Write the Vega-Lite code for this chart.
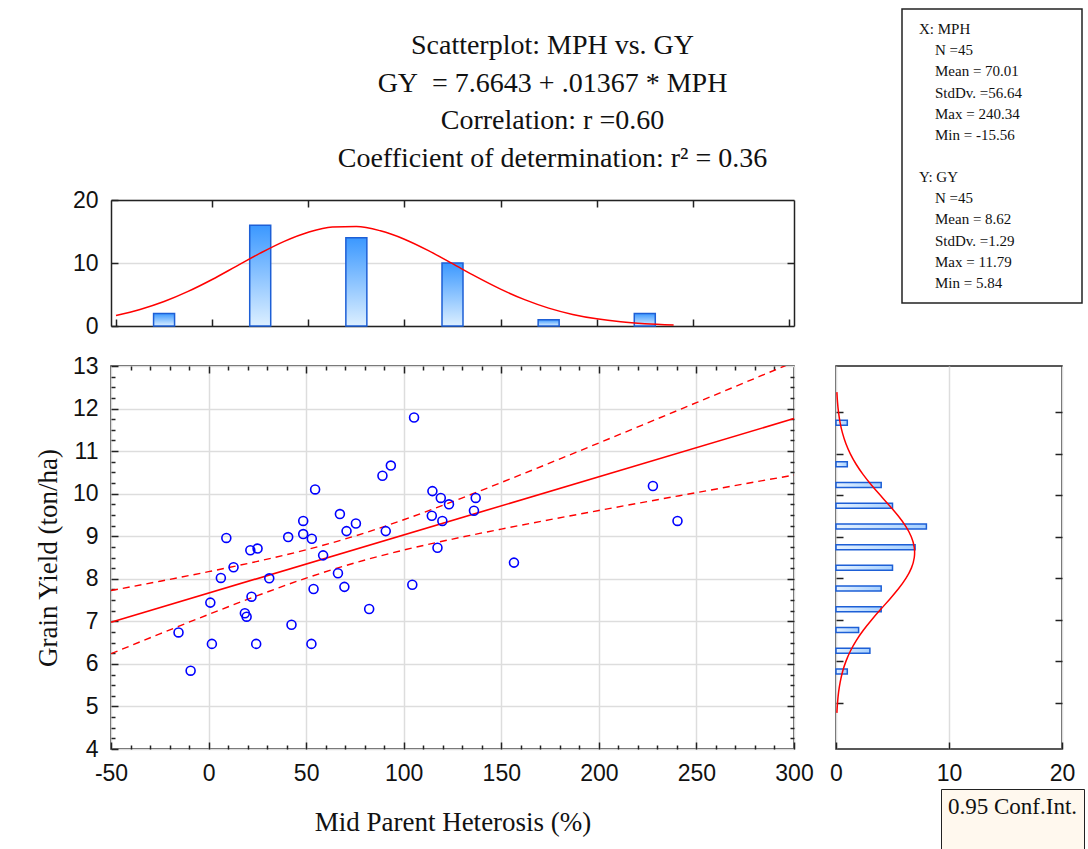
{
  "$schema": "https://vega.github.io/schema/vega-lite/v6.json",
  "background": "white",
  "padding": {"left": 33, "top": 8, "right": 0, "bottom": 0},
  "config": {
    "view": {"stroke": "#222", "strokeWidth": 1.5},
    "axis": {
      "labelFont": "Liberation Sans", "labelFontSize": 23, "labelColor": "#111", "labelFlush": false,
      "labelExpr": "datum.value",
      "titleFont": "Liberation Serif", "titleFontSize": 27, "titleFontWeight": "normal", "titleColor": "#111",
      "domain": false, "domainColor": "#222", "domainWidth": 1.5, "gridColor": "#dddddd", "gridWidth": 1.5,
      "tickColor": "#222", "tickSize": -7, "tickWidth": 1.5, "labelPadding": 20
    }
  },
  "datasets": {
    "points": [
      {"MPH": -15.4, "GY": 6.74}, {"MPH": -9.2, "GY": 5.84}, {"MPH": 0.9, "GY": 7.44}, {"MPH": 1.7, "GY": 6.47},
      {"MPH": 6.3, "GY": 8.02}, {"MPH": 9.1, "GY": 8.96}, {"MPH": 12.8, "GY": 8.27}, {"MPH": 18.6, "GY": 7.19},
      {"MPH": 19.5, "GY": 7.11}, {"MPH": 21.4, "GY": 8.67}, {"MPH": 22.0, "GY": 7.58}, {"MPH": 24.4, "GY": 6.47},
      {"MPH": 25.1, "GY": 8.71}, {"MPH": 31.1, "GY": 8.01}, {"MPH": 40.8, "GY": 8.98}, {"MPH": 42.5, "GY": 6.92},
      {"MPH": 48.5, "GY": 9.36}, {"MPH": 48.5, "GY": 9.05}, {"MPH": 52.7, "GY": 6.47}, {"MPH": 52.9, "GY": 8.94},
      {"MPH": 53.8, "GY": 7.76}, {"MPH": 54.6, "GY": 10.10}, {"MPH": 58.7, "GY": 8.55}, {"MPH": 66.3, "GY": 8.13},
      {"MPH": 67.3, "GY": 9.52}, {"MPH": 69.6, "GY": 7.81}, {"MPH": 70.7, "GY": 9.12}, {"MPH": 75.5, "GY": 9.30},
      {"MPH": 82.3, "GY": 7.29}, {"MPH": 89.1, "GY": 10.42}, {"MPH": 90.8, "GY": 9.12}, {"MPH": 93.4, "GY": 10.66},
      {"MPH": 104.4, "GY": 7.86}, {"MPH": 105.3, "GY": 11.79}, {"MPH": 114.4, "GY": 9.48}, {"MPH": 114.7, "GY": 10.06},
      {"MPH": 117.3, "GY": 8.73}, {"MPH": 119.0, "GY": 9.90}, {"MPH": 119.8, "GY": 9.36}, {"MPH": 123.2, "GY": 9.75},
      {"MPH": 136.0, "GY": 9.60}, {"MPH": 136.9, "GY": 9.90}, {"MPH": 156.5, "GY": 8.38}, {"MPH": 227.7, "GY": 10.18},
      {"MPH": 240.3, "GY": 9.36}
    ],
    "fit": [{"MPH": -50, "GY": 6.98}, {"MPH": 300, "GY": 11.765}],
    "ci": [
      {"MPH": -50, "bound": "upper", "GY": 7.723}, {"MPH": -25, "bound": "upper", "GY": 7.941},
      {"MPH": 0, "bound": "upper", "GY": 8.167}, {"MPH": 25, "bound": "upper", "GY": 8.409},
      {"MPH": 50, "bound": "upper", "GY": 8.681}, {"MPH": 70, "bound": "upper", "GY": 8.935},
      {"MPH": 100, "bound": "upper", "GY": 9.387}, {"MPH": 125, "bound": "upper", "GY": 9.813},
      {"MPH": 150, "bound": "upper", "GY": 10.262}, {"MPH": 175, "bound": "upper", "GY": 10.723},
      {"MPH": 200, "bound": "upper", "GY": 11.191}, {"MPH": 225, "bound": "upper", "GY": 11.664},
      {"MPH": 250, "bound": "upper", "GY": 12.139}, {"MPH": 275, "bound": "upper", "GY": 12.615},
      {"MPH": 300, "bound": "upper", "GY": 13.092},
      {"MPH": -50, "bound": "lower", "GY": 6.239}, {"MPH": -25, "bound": "lower", "GY": 6.705},
      {"MPH": 0, "bound": "lower", "GY": 7.162}, {"MPH": 25, "bound": "lower", "GY": 7.603},
      {"MPH": 50, "bound": "lower", "GY": 8.015}, {"MPH": 70, "bound": "lower", "GY": 8.307},
      {"MPH": 100, "bound": "lower", "GY": 8.675}, {"MPH": 125, "bound": "lower", "GY": 8.933},
      {"MPH": 150, "bound": "lower", "GY": 9.168}, {"MPH": 175, "bound": "lower", "GY": 9.389},
      {"MPH": 200, "bound": "lower", "GY": 9.605}, {"MPH": 225, "bound": "lower", "GY": 9.816},
      {"MPH": 250, "bound": "lower", "GY": 10.025}, {"MPH": 275, "bound": "lower", "GY": 10.233},
      {"MPH": 300, "bound": "lower", "GY": 10.438}
    ],
    "histx": [
      {"MPH": -25, "count": 2}, {"MPH": 25, "count": 16}, {"MPH": 75, "count": 14},
      {"MPH": 125, "count": 10}, {"MPH": 175, "count": 1}, {"MPH": 225, "count": 2}
    ],
    "curvex": [
      {"MPH": -50, "count": 1.68}, {"MPH": -37.5, "count": 2.62}, {"MPH": -25, "count": 3.88},
      {"MPH": -12.5, "count": 5.49}, {"MPH": 0, "count": 7.38}, {"MPH": 12.5, "count": 9.47},
      {"MPH": 25, "count": 11.56}, {"MPH": 37.5, "count": 13.44}, {"MPH": 50, "count": 14.89},
      {"MPH": 62.5, "count": 15.71}, {"MPH": 75, "count": 15.79}, {"MPH": 87.5, "count": 15.11},
      {"MPH": 100, "count": 13.78}, {"MPH": 112.5, "count": 11.96}, {"MPH": 125, "count": 9.89},
      {"MPH": 137.5, "count": 7.79}, {"MPH": 150, "count": 5.85}, {"MPH": 162.5, "count": 4.18},
      {"MPH": 175, "count": 2.84}, {"MPH": 187.5, "count": 1.84}, {"MPH": 200, "count": 1.14},
      {"MPH": 212.5, "count": 0.67}, {"MPH": 225, "count": 0.375}, {"MPH": 240, "count": 0.175}
    ],
    "histy": [
      {"GY": 11.75, "count": 1}, {"GY": 10.75, "count": 1}, {"GY": 10.25, "count": 4},
      {"GY": 9.75, "count": 5}, {"GY": 9.25, "count": 8}, {"GY": 8.75, "count": 7},
      {"GY": 8.25, "count": 5}, {"GY": 7.75, "count": 4}, {"GY": 7.25, "count": 4},
      {"GY": 6.75, "count": 2}, {"GY": 6.25, "count": 3}, {"GY": 5.75, "count": 1}
    ],
    "curvey": [
      {"GY": 4.75, "count": 0.077}, {"GY": 5.0, "count": 0.136}, {"GY": 5.25, "count": 0.229},
      {"GY": 5.5, "count": 0.374}, {"GY": 5.75, "count": 0.586}, {"GY": 6.0, "count": 0.885},
      {"GY": 6.25, "count": 1.287}, {"GY": 6.5, "count": 1.803}, {"GY": 6.75, "count": 2.433},
      {"GY": 7.0, "count": 3.162}, {"GY": 7.25, "count": 3.959}, {"GY": 7.5, "count": 4.773},
      {"GY": 7.75, "count": 5.543}, {"GY": 8.0, "count": 6.199}, {"GY": 8.25, "count": 6.677},
      {"GY": 8.5, "count": 6.928}, {"GY": 8.75, "count": 6.923}, {"GY": 9.0, "count": 6.662},
      {"GY": 9.25, "count": 6.176}, {"GY": 9.5, "count": 5.514}, {"GY": 9.75, "count": 4.741},
      {"GY": 10.0, "count": 3.926}, {"GY": 10.25, "count": 3.132}, {"GY": 10.5, "count": 2.406},
      {"GY": 10.75, "count": 1.780}, {"GY": 11.0, "count": 1.268}, {"GY": 11.25, "count": 0.871},
      {"GY": 11.5, "count": 0.576}, {"GY": 11.75, "count": 0.366}, {"GY": 12.0, "count": 0.225},
      {"GY": 12.25, "count": 0.133}, {"GY": 12.49, "count": 0.077}
    ],
    "stats": [
      {"variable": "X: MPH", "stat": "head", "level": "head", "label": "X: MPH"},
      {"variable": "X: MPH", "stat": "N", "level": "item", "label": "N =45"},
      {"variable": "X: MPH", "stat": "Mean", "level": "item", "label": "Mean = 70.01"},
      {"variable": "X: MPH", "stat": "StdDv", "level": "item", "label": "StdDv. =56.64"},
      {"variable": "X: MPH", "stat": "Max", "level": "item", "label": "Max = 240.34"},
      {"variable": "X: MPH", "stat": "Min", "level": "item", "label": "Min = -15.56"},
      {"variable": "Y: GY", "stat": "head", "level": "head", "label": "Y: GY"},
      {"variable": "Y: GY", "stat": "N", "level": "item", "label": "N =45"},
      {"variable": "Y: GY", "stat": "Mean", "level": "item", "label": "Mean = 8.62"},
      {"variable": "Y: GY", "stat": "StdDv", "level": "item", "label": "StdDv. =1.29"},
      {"variable": "Y: GY", "stat": "Max", "level": "item", "label": "Max = 11.79"},
      {"variable": "Y: GY", "stat": "Min", "level": "item", "label": "Min = 5.84"}
    ]
  },
  "vconcat": [
    {
      "hconcat": [
        {
          "width": 683, "height": 317,
          "view": {"stroke": null},
          "title": {
            "text": ["Scatterplot: MPH vs. GY", "GY\u00a0 = 7.6643 + .01367 * MPH", "Correlation: r =0.60", "Coefficient of determination: r² = 0.36"],
            "font": "Liberation Serif", "fontSize": 28, "fontWeight": "normal", "lineHeight": 37.7,
            "color": "#111", "frame": "group", "anchor": "middle", "dx": 100, "offset": -164
          },
          "layer": [
            {
              "data": {"name": "histx"},
              "mark": {"type": "bar", "width": 21, "stroke": "#1d5fd6", "strokeWidth": 1.5,
                "fill": {"gradient": "linear", "x1": 0, "y1": 1, "x2": 0, "y2": 0,
                  "stops": [{"offset": 0, "color": "#dcefff"}, {"offset": 1, "color": "#3b98ff"}]}},
              "encoding": {
                "x": {"field": "MPH", "type": "quantitative", "scale": {"domain": [-50, 300], "nice": false, "zero": false},
                  "axis": {"title": null, "labels": false, "grid": false, "domain": true, "values": [-50, 0, 50, 100, 150, 200, 250, 300]}},
                "y": {"field": "count", "type": "quantitative", "scale": {"domain": [0, 20], "nice": false, "range": [317, 191]},
                  "axis": {"title": null, "values": [0, 10, 20], "grid": true, "domain": true}}
              }
            },
            {
              "data": {"name": "curvex"},
              "mark": {"type": "line", "color": "#ff0000", "strokeWidth": 1.5, "interpolate": "monotone"},
              "encoding": {
                "x": {"field": "MPH", "type": "quantitative",
                  "axis": {"orient": "top", "offset": -191, "title": null, "labels": false, "grid": false, "domain": true, "values": [0, 50, 100, 150, 200, 250]}},
                "y": {"field": "count", "type": "quantitative",
                  "axis": {"orient": "right", "title": null, "labels": false, "grid": false, "domain": true, "values": [10]}}
              }
            }
          ],
          "resolve": {"axis": {"x": "independent", "y": "independent"}}
        },
        {
          "width": 180, "height": 294,
          "data": {"name": "stats"},
          "mark": {"type": "text", "font": "Liberation Serif", "fontSize": 15, "align": "left", "baseline": "middle", "color": "#111"},
          "encoding": {
            "y": {"field": "variable", "type": "nominal", "sort": null, "axis": null,
              "scale": {"type": "band", "paddingInner": 0.138, "paddingOuter": 0.0624}},
            "yOffset": {"field": "stat", "type": "nominal", "sort": null,
              "scale": {"type": "band", "paddingInner": 0, "paddingOuter": 0}},
            "x": {"field": "level", "type": "nominal", "sort": null, "axis": null, "scale": {"type": "point", "range": [17, 33], "padding": 0}},
            "text": {"field": "label"}
          }
        }
      ],
      "spacing": 106
    },
    {
      "hconcat": [
        {
          "width": 683, "height": 383,
          "layer": [
            {
              "data": {"name": "ci"},
              "mark": {"type": "line", "color": "#ff0000", "strokeWidth": 1.4, "strokeDash": [7, 5], "interpolate": "monotone", "clip": true},
              "encoding": {
                "x": {"field": "MPH", "type": "quantitative", "scale": {"domain": [-50, 300], "nice": false, "zero": false},
                  "axis": {"title": "Mid Parent Heterosis (%)", "grid": true, "values": [-50, 0, 50, 100, 150, 200, 250, 300], "titlePadding": 24}},
                "y": {"field": "GY", "type": "quantitative", "scale": {"domain": [4, 13], "nice": false, "zero": false},
                  "axis": {"title": "Grain Yield (ton/ha)", "grid": true, "values": [4, 5, 6, 7, 8, 9, 10, 11, 12, 13], "minExtent": 35, "maxExtent": 35, "titlePadding": 14}},
                "detail": {"field": "bound", "type": "nominal"}
              }
            },
            {
              "data": {"name": "fit"},
              "mark": {"type": "line", "color": "#ff0000", "strokeWidth": 1.6},
              "encoding": {
                "x": {"field": "MPH", "type": "quantitative",
                  "axis": {"orient": "top", "title": null, "labels": false, "grid": false,
                    "tickSize": {"condition": {"test": "datum.value % 50 === 0", "value": -7}, "value": -4},
                    "values": [-40, -30, -20, -10, 0, 10, 20, 30, 40, 50, 60, 70, 80, 90, 100, 110, 120, 130, 140, 150, 160, 170, 180, 190, 200, 210, 220, 230, 240, 250, 260, 270, 280, 290]}},
                "y": {"field": "GY", "type": "quantitative",
                  "axis": {"orient": "right", "title": null, "labels": false, "grid": false,
                    "tickSize": {"condition": {"test": "datum.value % 1 === 0", "value": -7}, "value": -4},
                    "values": [4.25, 4.5, 4.75, 5, 5.25, 5.5, 5.75, 6, 6.25, 6.5, 6.75, 7, 7.25, 7.5, 7.75, 8, 8.25, 8.5, 8.75, 9, 9.25, 9.5, 9.75, 10, 10.25, 10.5, 10.75, 11, 11.25, 11.5, 11.75, 12, 12.25, 12.5, 12.75]}}
              }
            },
            {
              "data": {"name": "points"},
              "mark": {"type": "point", "shape": "circle", "filled": false, "color": "#0000ff", "size": 80, "strokeWidth": 1.6, "opacity": 1},
              "encoding": {
                "x": {"field": "MPH", "type": "quantitative",
                  "axis": {"orient": "bottom", "title": null, "labels": false, "grid": false, "tickSize": -4,
                    "values": [-40, -30, -20, -10, 10, 20, 30, 40, 60, 70, 80, 90, 110, 120, 130, 140, 160, 170, 180, 190, 210, 220, 230, 240, 260, 270, 280, 290]}},
                "y": {"field": "GY", "type": "quantitative",
                  "axis": {"orient": "left", "title": null, "labels": false, "grid": false, "tickSize": -4,
                    "values": [4.25, 4.5, 4.75, 5.25, 5.5, 5.75, 6.25, 6.5, 6.75, 7.25, 7.5, 7.75, 8.25, 8.5, 8.75, 9.25, 9.5, 9.75, 10.25, 10.5, 10.75, 11.25, 11.5, 11.75, 12.25, 12.5, 12.75]}}
              }
            }
          ],
          "resolve": {"axis": {"x": "independent", "y": "independent"}}
        },
        {
          "width": 226, "height": 383,
          "layer": [
            {
              "data": {"name": "histy"},
              "mark": {"type": "bar", "orient": "horizontal", "height": 5, "stroke": "#1d5fd6", "strokeWidth": 1.5,
                "fill": {"gradient": "linear", "x1": 0, "y1": 0, "x2": 1, "y2": 0,
                  "stops": [{"offset": 0, "color": "#e4f1ff"}, {"offset": 1, "color": "#a6d0ff"}]}},
              "encoding": {
                "y": {"field": "GY", "type": "quantitative", "scale": {"domain": [4, 13], "nice": false, "zero": false},
                  "axis": {"title": null, "labels": false, "grid": false, "values": [5, 6, 7, 8, 9, 10, 11, 12]}},
                "x": {"field": "count", "type": "quantitative", "scale": {"domain": [0, 20], "nice": false},
                  "axis": {"title": null, "values": [0, 10, 20], "grid": true}}
              }
            },
            {
              "data": {"name": "curvey"},
              "mark": {"type": "line", "strokeWidth": 1.5, "interpolate": "natural"},
              "encoding": {
                "y": {"field": "GY", "type": "quantitative",
                  "axis": {"orient": "right", "title": null, "labels": false, "grid": false, "values": [5, 6, 7, 8, 9, 10, 11, 12]}},
                "x": {"field": "count", "type": "quantitative"},
                "order": {"field": "GY", "type": "quantitative"},
                "color": {"datum": "0.95 Conf.Int.", "type": "nominal", "scale": {"range": ["#ff0000"]},
                  "legend": {"orient": "none", "legendX": 830, "legendY": 780, "title": null,
                    "fillColor": "#fff8ee", "strokeColor": "#222", "padding": 6,
                    "symbolOpacity": 0, "symbolSize": 0, "symbolStrokeWidth": 0,
                    "labelExpr": "[datum.label, '']",
                    "labelFont": "Liberation Serif", "labelFontSize": 23, "labelColor": "#111", "labelOffset": -22, "labelLimit": 300}}
              }
            }
          ],
          "resolve": {"axis": {"y": "independent"}}
        }
      ],
      "spacing": 14
    }
  ],
  "spacing": 16
}
